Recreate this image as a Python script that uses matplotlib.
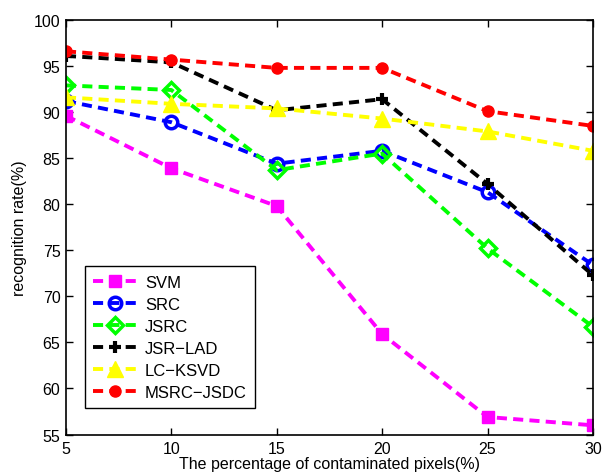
import matplotlib
matplotlib.use("Agg")
import matplotlib.pyplot as plt

x = [5, 10, 15, 20, 25, 30]
svm = [89.6, 83.9, 79.8, 65.9, 56.9, 56.0]
src = [91.2, 88.9, 84.4, 85.8, 81.3, 73.4]
jsrc = [92.9, 92.4, 83.7, 85.5, 75.2, 66.7]
jsr_lad = [96.1, 95.4, 90.2, 91.4, 82.2, 72.3]
lc_ksvd = [91.6, 90.9, 90.4, 89.3, 87.9, 85.8]
msrc_jsdc = [96.6, 95.7, 94.8, 94.8, 90.1, 88.5]

labels = ["SVM", "SRC", "JSRC", "JSR\u2212LAD", "LC\u2212KSVD", "MSRC\u2212JSDC"]

plt.rcParams['font.family'] = ['Liberation Sans', 'DejaVu Sans']

fig = plt.figure(figsize=(6.05, 4.77), dpi=100)
ax = fig.add_axes([0.109, 0.087, 0.871, 0.869])

lw = 2.8
dash = [2.6, 1.6]
ax.plot(x, svm, '--', dashes=dash, color='#ff00ff', lw=lw, marker='s', ms=8, mfc='#ff00ff', mec='#ff00ff', label=labels[0])
ax.plot(x, src, '--', dashes=dash, color='#0000ff', lw=lw, marker='o', ms=9, mfc='none', mec='#0000ff', mew=2.5, label=labels[1])
ax.plot(x, jsrc, '--', dashes=dash, color='#00ff00', lw=lw, marker='D', ms=8, mfc='none', mec='#00ff00', mew=2.5, label=labels[2])
ax.plot(x, jsr_lad, '--', dashes=dash, color='black', lw=lw, marker='+', ms=9, mew=3, label=labels[3])
ax.plot(x, lc_ksvd, '--', dashes=dash, color='#ffff00', lw=lw, marker='^', ms=12, mfc='#ffff00', mec='#ffff00', label=labels[4])
ax.plot(x, msrc_jsdc, '--', dashes=dash, color='#ff0000', lw=lw, marker='o', ms=8, mfc='#ff0000', mec='#ff0000', label=labels[5])

ax.set_xlim(5, 30)
ax.set_ylim(55, 100)
ax.set_xticks(x)
ax.set_yticks(range(55, 101, 5))
ax.tick_params(direction='in', length=5, labelsize=11.5, top=True, right=True, width=1)
ax.tick_params(axis='x', pad=5)
ax.tick_params(axis='y', pad=4)
for s in ax.spines.values():
    s.set_linewidth(1.2)
ax.set_xlabel("The percentage of contaminated pixels(%)", fontsize=11.5, labelpad=0)
ax.set_ylabel("recognition rate(%)", fontsize=11.5, labelpad=5)

leg = ax.legend(loc='lower left', bbox_to_anchor=(0.036, 0.064), borderaxespad=0, fontsize=12,
                fancybox=False, edgecolor='black', framealpha=1, handlelength=2.6,
                handletextpad=0.5, borderpad=0.5, labelspacing=0.42)
leg.get_frame().set_linewidth(1.0)

fig.savefig("out.png", dpi=100)
